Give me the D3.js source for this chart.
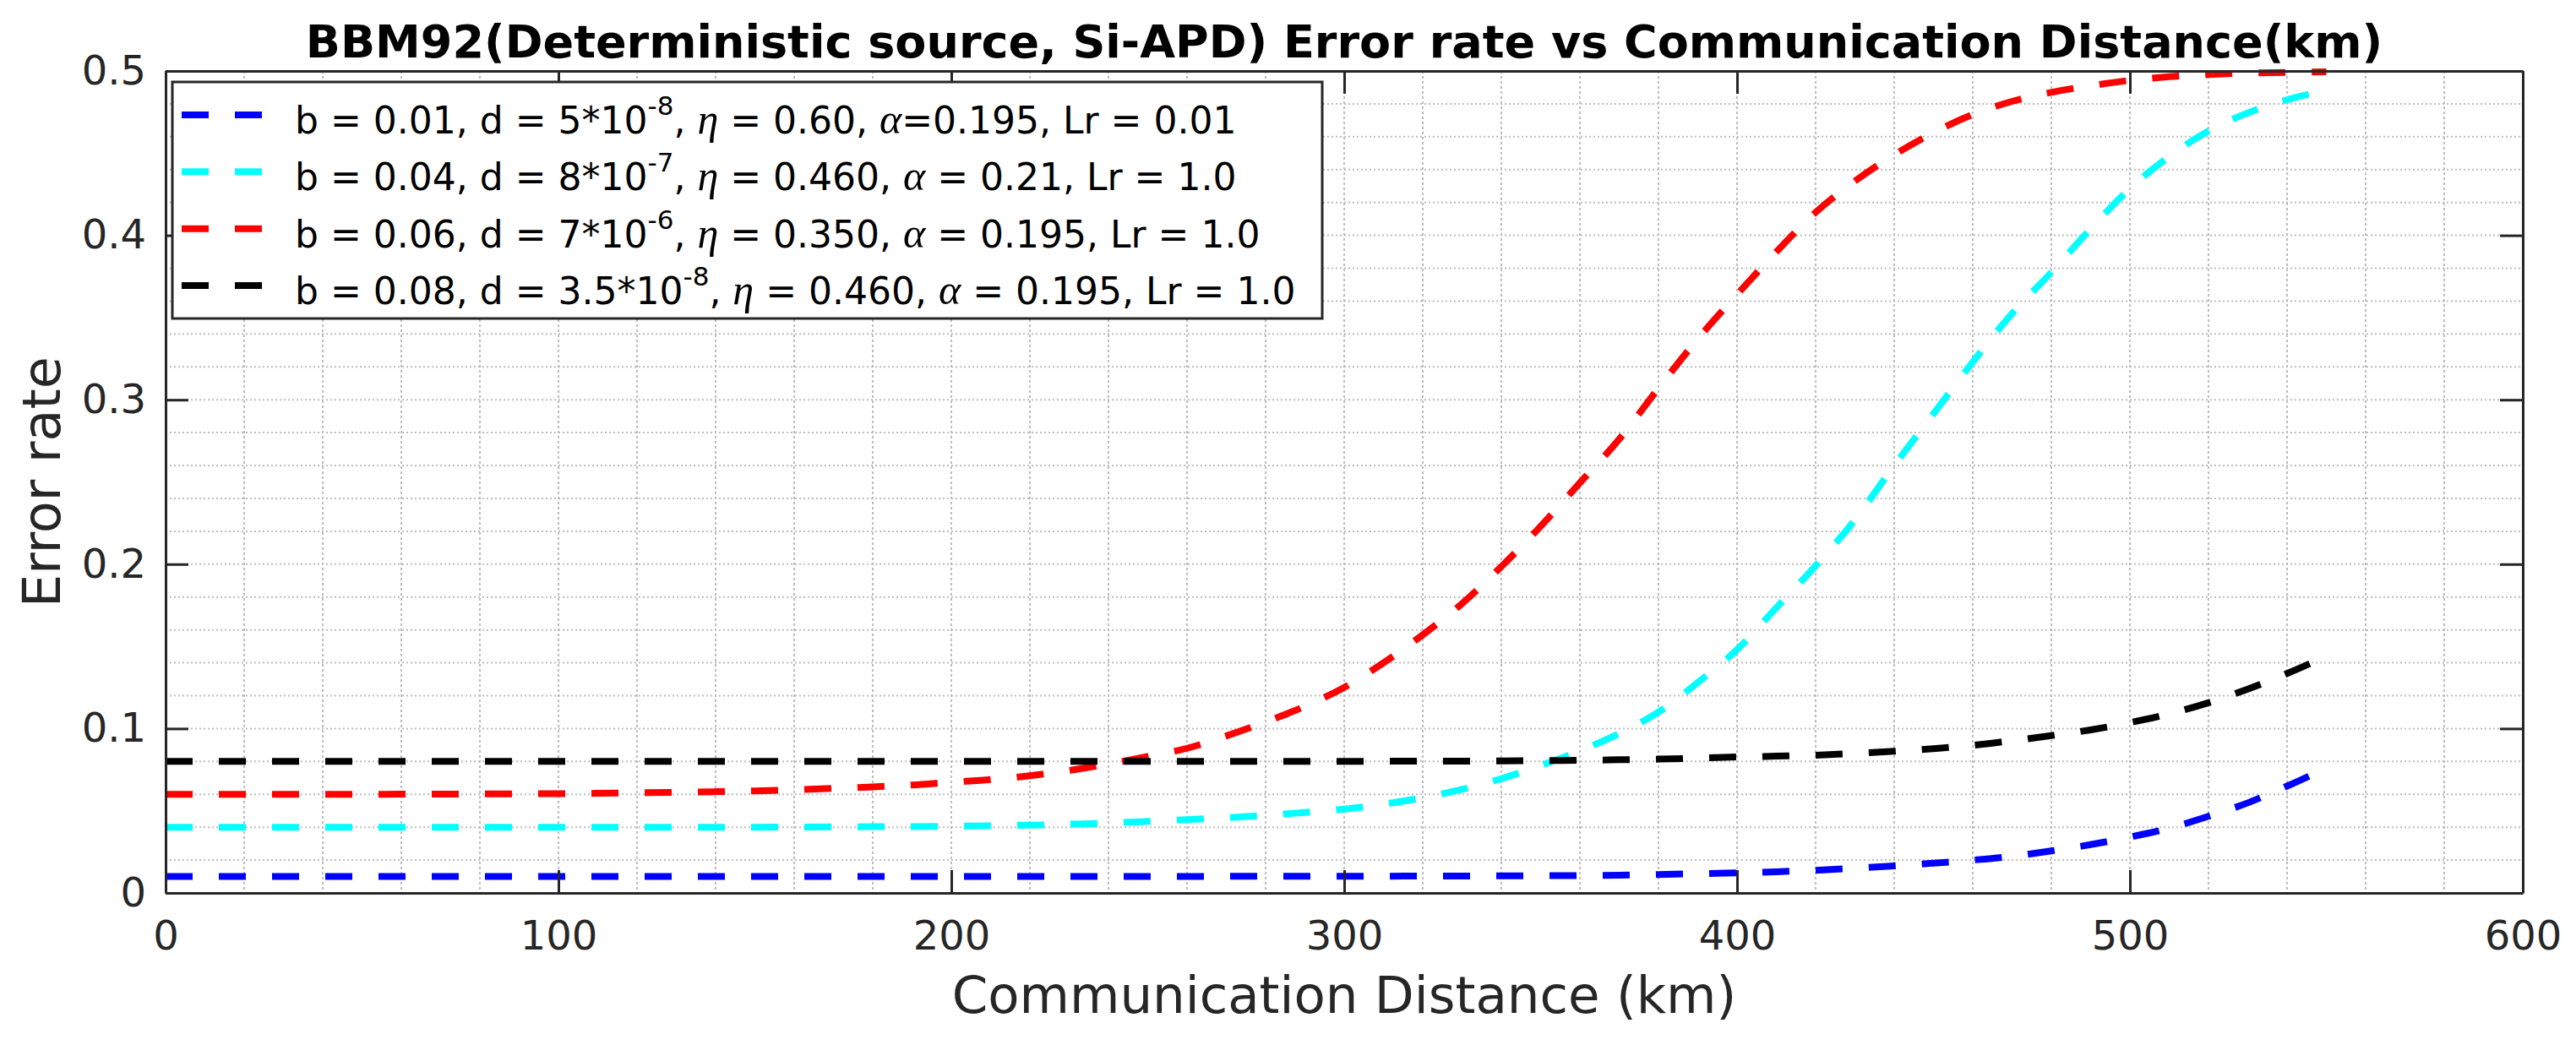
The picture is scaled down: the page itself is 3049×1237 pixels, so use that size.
<!DOCTYPE html>
<html>
<head>
<meta charset="utf-8">
<script src="https://cdn.jsdelivr.net/npm/d3@7"></script>
<style>
  body { margin: 0; background: #fff; }
  svg { display: block; }
</style>
</head>
<body>
<script>
// values
var distance = [0, 10, 20, 30, 40, 50, 60, 70, 80, 90, 100, 110, 120, 130, 140, 150, 160, 170, 180, 190,
  200, 210, 220, 230, 240, 250, 260, 270, 280, 290, 300, 310, 320, 330, 340, 350, 360, 370, 380, 390,
  400, 410, 420, 430, 440, 450, 460, 470, 480, 490, 500, 510, 520, 530, 540, 550];

var blueRate = [0.0100, 0.0100, 0.0100, 0.0100, 0.0100, 0.0100, 0.0100, 0.0100, 0.0100, 0.0100,
  0.0100, 0.0100, 0.0100, 0.0100, 0.0100, 0.0100, 0.0100, 0.0100, 0.0100, 0.0100,
  0.0100, 0.0100, 0.0100, 0.0100, 0.0100, 0.0100, 0.0100, 0.0101, 0.0101, 0.0101,
  0.0102, 0.0102, 0.0103, 0.0103, 0.0104, 0.0105, 0.0106, 0.0108, 0.0112, 0.0117,
  0.0122, 0.0129, 0.0138, 0.0150, 0.0165, 0.0181, 0.0200, 0.0223, 0.0256, 0.0294,
  0.0340, 0.0394, 0.0466, 0.0548, 0.0650, 0.0760];

var cyanRate = [0.0400, 0.0400, 0.0400, 0.0400, 0.0400, 0.0400, 0.0400, 0.0400, 0.0400, 0.0400,
  0.0400, 0.0400, 0.0400, 0.0400, 0.0400, 0.0400, 0.0401, 0.0402, 0.0403, 0.0404,
  0.0406, 0.0408, 0.0412, 0.0418, 0.0425, 0.0435, 0.0446, 0.0458, 0.0472, 0.0490,
  0.0510, 0.0540, 0.0580, 0.0630, 0.0695, 0.0775, 0.0865, 0.0970, 0.1100, 0.1280,
  0.1480, 0.1735, 0.1990, 0.2270, 0.2600, 0.2915, 0.3230, 0.3525, 0.3775, 0.4040,
  0.4285, 0.4480, 0.4635, 0.4745, 0.4825, 0.4880];

var redRate = [0.0600, 0.0600, 0.0600, 0.0600, 0.0600, 0.0600, 0.0601, 0.0601, 0.0602, 0.0603,
  0.0604, 0.0606, 0.0609, 0.0612, 0.0616, 0.0621, 0.0628, 0.0636, 0.0645, 0.0657,
  0.0674, 0.0690, 0.0713, 0.0745, 0.0785, 0.0830, 0.0880, 0.0955, 0.1040, 0.1135,
  0.1250, 0.1400, 0.1570, 0.1760, 0.1985, 0.2230, 0.2495, 0.2760, 0.3070, 0.3370,
  0.3640, 0.3900, 0.4140, 0.4330, 0.4490, 0.4625, 0.4735, 0.4815, 0.4870, 0.4910,
  0.4943, 0.4965, 0.4978, 0.4987, 0.4991, 0.4995];

var blackRate = [0.0800, 0.0800, 0.0800, 0.0800, 0.0800, 0.0800, 0.0800, 0.0800, 0.0800, 0.0800,
  0.0800, 0.0800, 0.0800, 0.0800, 0.0800, 0.0800, 0.0800, 0.0800, 0.0800, 0.0800,
  0.0800, 0.0800, 0.0800, 0.0800, 0.0800, 0.0800, 0.0800, 0.0800, 0.0800, 0.0800,
  0.0801, 0.0801, 0.0802, 0.0802, 0.0803, 0.0805, 0.0807, 0.0810, 0.0814, 0.0820,
  0.0827, 0.0832, 0.0838, 0.0849, 0.0862, 0.0878, 0.0898, 0.0926, 0.0957, 0.0992,
  0.1036, 0.1090, 0.1157, 0.1240, 0.1335, 0.1440];

var seriesLabels = [
  'b = 0.01, d = 5*10^{-8}, \\eta = 0.60, \\alpha=0.195, Lr = 0.01',
  'b = 0.04, d = 8*10^{-7}, \\eta = 0.460, \\alpha = 0.21, Lr = 1.0',
  'b = 0.06, d = 7*10^{-6}, \\eta = 0.350, \\alpha = 0.195, Lr = 1.0',
  'b = 0.08, d = 3.5*10^{-8}, \\eta = 0.460, \\alpha = 0.195, Lr = 1.0'
];
var seriesColors = ['#0000ff', '#00ffff', '#ff0000', '#000000'];
var seriesValues = [blueRate, cyanRate, redRate, blackRate];

var xTicks = [0, 100, 200, 300, 400, 500, 600];
var yTicks = [0, 0.1, 0.2, 0.3, 0.4, 0.5];

var titleText = 'BBM92(Deterministic source, Si-APD) Error rate vs Communication Distance(km)';
var xLabel = 'Communication Distance (km)';
var yLabel = 'Error rate';

var W = 3049, H = 1237;
var margin = {left: 196, top: 84, right: 63, bottom: 180};
var pw = W - margin.left - margin.right;
var ph = H - margin.top - margin.bottom;
var axisColor = '#262626';
var font = '"DejaVu Sans", sans-serif';

var svg = d3.select('body').append('svg')
  .attr('width', W)
  .attr('height', H);

svg.append('rect').attr('width', W).attr('height', H).attr('fill', '#fff');

var g = svg.append('g').attr('transform', 'translate(' + margin.left + ',' + margin.top + ')');

var x = d3.scaleLinear().domain([0, 600]).range([0, pw]);
var y = d3.scaleLinear().domain([0, 0.5]).range([ph, 0]);

// grid (major + minor, all dotted)
g.selectAll('.vgrid')
  .data(x.ticks(30))
  .enter().append('line')
  .attr('x1', function (d) { return x(d); })
  .attr('x2', function (d) { return x(d); })
  .attr('y1', 0)
  .attr('y2', ph)
  .attr('stroke', '#bdbdbd')
  .attr('stroke-width', 2)
  .attr('stroke-dasharray', '3,3');

g.selectAll('.hgrid')
  .data(y.ticks(25))
  .enter().append('line')
  .attr('x1', 0)
  .attr('x2', pw)
  .attr('y1', function (d) { return y(d); })
  .attr('y2', function (d) { return y(d); })
  .attr('stroke', '#bdbdbd')
  .attr('stroke-width', 2)
  .attr('stroke-dasharray', '2,3');

// curves
var line = d3.line()
  .x(function (d) { return x(d[0]); })
  .y(function (d) { return y(d[1]); })
  .curve(d3.curveMonotoneX);

g.selectAll('.series')
  .data(seriesValues)
  .enter().append('path')
  .attr('d', function (vals) { return line(distance.map(function (km, i) { return [km, vals[i]]; })); })
  .attr('fill', 'none')
  .attr('stroke', function (d, i) { return seriesColors[i]; })
  .attr('stroke-width', 8)
  .attr('stroke-dasharray', '32,31');

// axes, ticks pointing inward
function styleAxis(sel) {
  sel.select('.domain').attr('stroke', axisColor).attr('stroke-width', 3);
  sel.selectAll('.tick line').attr('stroke', axisColor).attr('stroke-width', 3);
  sel.selectAll('.tick text').attr('fill', axisColor).style('font-family', font).style('font-size', '48px');
}

g.append('g').attr('transform', 'translate(0,' + ph + ')')
  .call(d3.axisBottom(x).tickValues(xTicks).tickSizeInner(-27).tickSizeOuter(0).tickPadding(33))
  .call(styleAxis);
g.append('g')
  .call(d3.axisTop(x).tickValues(xTicks).tickSizeInner(-27).tickSizeOuter(0).tickFormat(''))
  .call(styleAxis);
g.append('g')
  .call(d3.axisLeft(y).tickValues(yTicks).tickSizeInner(-27).tickSizeOuter(0).tickPadding(23)
    .tickFormat(function (d) { return d === 0 ? '0' : d3.format('.1f')(d); }))
  .call(styleAxis);
g.append('g').attr('transform', 'translate(' + pw + ',0)')
  .call(d3.axisRight(y).tickValues(yTicks).tickSizeInner(-27).tickSizeOuter(0).tickFormat(''))
  .call(styleAxis);

// labels
svg.append('text')
  .attr('x', margin.left + pw / 2)
  .attr('y', 68)
  .attr('text-anchor', 'middle')
  .style('font-family', font)
  .style('font-weight', 'bold')
  .style('font-size', '54px')
  .attr('fill', '#000')
  .text(titleText);

svg.append('text')
  .attr('x', margin.left + pw / 2)
  .attr('y', 1199)
  .attr('text-anchor', 'middle')
  .style('font-family', font)
  .style('font-size', '61px')
  .attr('fill', axisColor)
  .text(xLabel);

svg.append('text')
  .attr('transform', 'translate(71,' + (margin.top + ph / 2) + ') rotate(-90)')
  .attr('text-anchor', 'middle')
  .style('font-family', font)
  .style('font-size', '62px')
  .attr('fill', axisColor)
  .text(yLabel);

// legend
var legend = svg.append('g').attr('transform', 'translate(204,97)');
legend.append('rect')
  .attr('width', 1361)
  .attr('height', 280)
  .attr('fill', '#fff')
  .attr('stroke', axisColor)
  .attr('stroke-width', 3);

var rowY = d3.scalePoint().domain(d3.range(seriesLabels.length)).range([39, 241]);

function richText(sel, str) {
  var parts = str.split(/(\^\{[^}]*\}|\\eta|\\alpha)/);
  var shift = 0;
  parts.forEach(function (p) {
    if (!p) return;
    var t = sel.append('tspan');
    if (p.indexOf('^{') === 0) {
      t.attr('dy', -22).style('font-size', '31px').text(p.slice(2, -1));
      shift = 22;
      return;
    }
    if (shift) { t.attr('dy', shift); shift = 0; }
    if (p === '\\eta' || p === '\\alpha') {
      t.style('font-family', '"Liberation Serif", serif')
        .style('font-style', 'italic')
        .style('font-size', '50px')
        .text(p === '\\eta' ? '\u03b7' : '\u03b1');
    } else {
      t.text(p);
    }
  });
}

var items = legend.selectAll('.item')
  .data(seriesLabels)
  .enter().append('g')
  .attr('transform', function (d, i) { return 'translate(0,' + rowY(i) + ')'; });

items.append('line')
  .attr('x1', 11)
  .attr('x2', 125)
  .attr('stroke', function (d, i) { return seriesColors[i]; })
  .attr('stroke-width', 8)
  .attr('stroke-dasharray', '32,31');

items.append('text')
  .attr('x', 145)
  .attr('y', 22)
  .style('font-family', font)
  .style('font-size', '44px')
  .attr('fill', '#000')
  .each(function (d) { richText(d3.select(this), d); });
</script>
</body>
</html>
